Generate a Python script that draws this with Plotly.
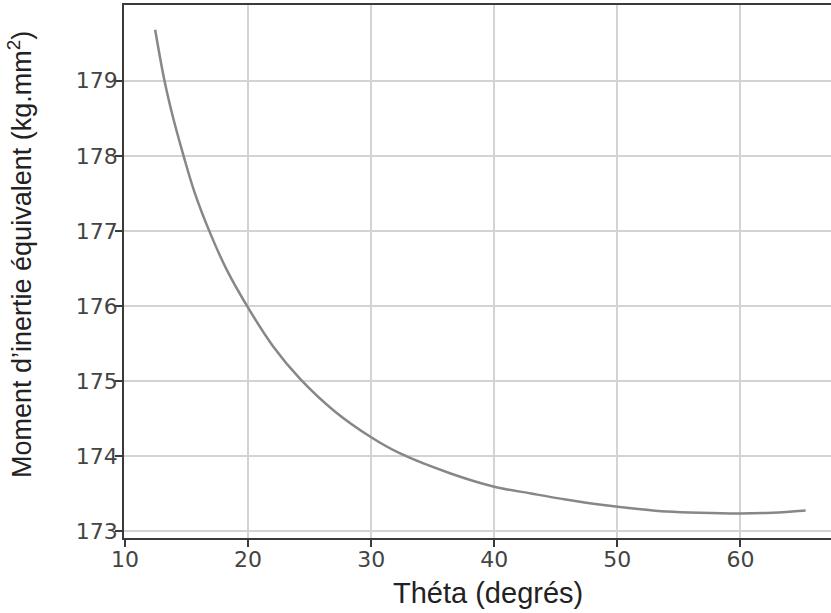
import plotly.graph_objects as go

# Data
theta = [12.45, 13.21, 13.89, 14.76, 15.66, 16.82, 18.24, 19.95, 22.04, 24.21, 27.0,
         30.0, 32.4, 36.4, 40.0, 43.0, 45.8, 48.7, 51.9, 54.0, 56.7, 60.0, 62.6, 65.3]
moment = [179.68, 179.0, 178.52, 178.0, 177.51, 177.01, 176.49, 175.99, 175.46, 175.03,
          174.60, 174.25, 174.03, 173.77, 173.59, 173.50, 173.42, 173.35, 173.29,
          173.26, 173.242, 173.233, 173.245, 173.275]

x_ticks = [10, 20, 30, 40, 50, 60]
y_ticks = [173, 174, 175, 176, 177, 178, 179]

x_title = "Théta (degrés)"
y_title = "Moment d’inertie équivalent (kg.mm<sup>2</sup>)"

fig = go.Figure()
fig.add_trace(go.Scatter(
    x=theta, y=moment, mode="lines",
    line=dict(color="#878787", width=2.5, shape="spline", smoothing=1.0),
    showlegend=False, hoverinfo="skip"))

W, H = 831, 613
ml, mr, mt, mb = 124, 0, 5, 75
pw, ph = W - ml - mr, H - mt - mb

tickfont = dict(family="DejaVu Sans", size=22, color="#444444")
fig.update_layout(
    width=W, height=H,
    margin=dict(l=ml, r=mr, t=mt, b=mb, pad=0),
    paper_bgcolor="white", plot_bgcolor="white",
    xaxis=dict(range=[9.92, 67.36], tickvals=x_ticks, ticktext=[str(v) for v in x_ticks],
               showgrid=True, gridcolor="#d3d3d3", gridwidth=1.5, zeroline=False,
               showline=True, linecolor="#3a3a3a", linewidth=1.8, mirror=True,
               ticks="outside", ticklen=7, tickwidth=1.5, tickcolor="#3a3a3a",
               tickfont=tickfont, ticklabelstandoff=-6, automargin=False),
    yaxis=dict(range=[172.907, 180.01], tickvals=y_ticks, ticktext=[str(v) for v in y_ticks],
               showgrid=True, gridcolor="#d3d3d3", gridwidth=1.5, zeroline=False,
               showline=True, linecolor="#3a3a3a", linewidth=1.8, mirror=False,
               ticks="outside", ticklen=7, tickwidth=1.5, tickcolor="#3a3a3a",
               tickfont=tickfont, ticklabelstandoff=-7, automargin=False),
    annotations=[
        dict(text=x_title, xref="paper", yref="paper",
             x=(488 - ml) / pw, y=(H - mb - 593) / ph,
             xanchor="center", yanchor="middle", showarrow=False,
             font=dict(family="Liberation Sans", size=29, color="#222222")),
        dict(text=y_title, xref="paper", yref="paper",
             x=(20 - ml) / pw, y=(H - mb - 255) / ph, textangle=-90,
             xanchor="center", yanchor="middle", showarrow=False,
             font=dict(family="Liberation Sans", size=27, color="#222222")),
    ],
)

fig.write_html("out.html", config={"displayModeBar": False},
               post_script="document.body.style.margin='0px';document.body.style.overflow='hidden';")
